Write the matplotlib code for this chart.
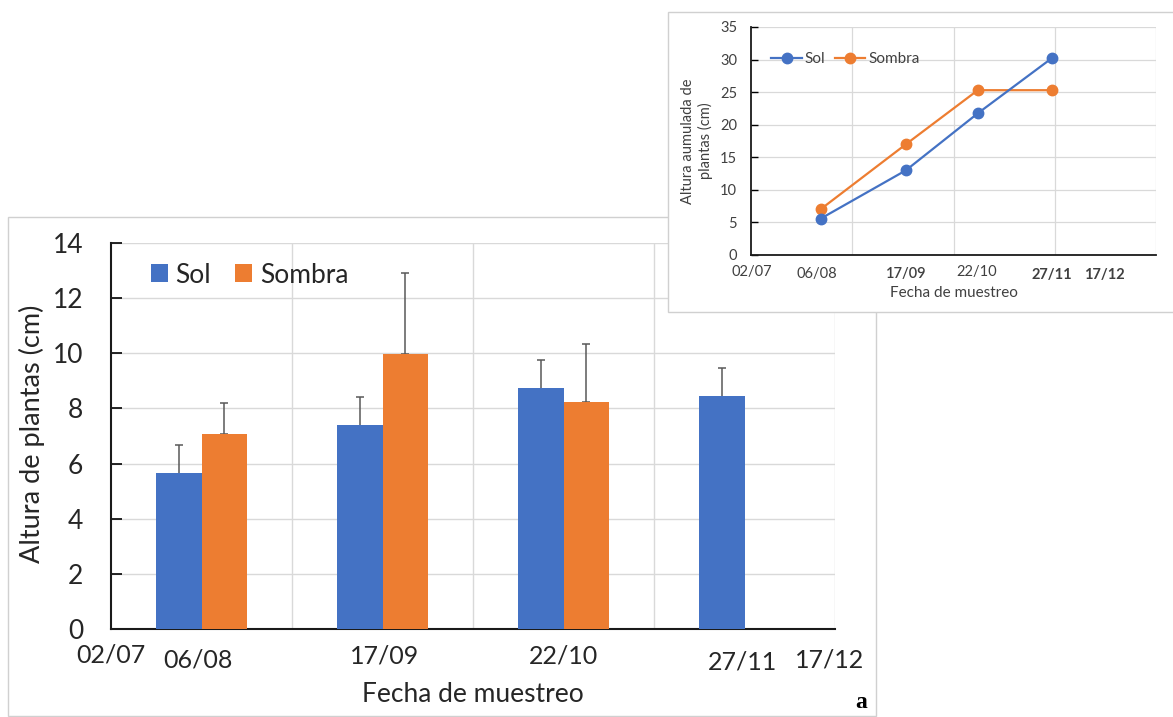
import numpy as np
import matplotlib
matplotlib.use("Agg")
import matplotlib.pyplot as plt
from matplotlib.patches import Rectangle
from matplotlib.transforms import offset_copy

plt.rcParams['font.family'] = ['Lato', 'DejaVu Sans']

# ---------------- data ----------------
dates = ["06/08", "17/09", "22/10", "27/11"]
sol_height = [5.65, 7.39, 8.73, 8.46]
sol_err = [1.02, 1.02, 1.02, 1.02]
sombra_height = [7.09, 9.98, 8.22, np.nan]
sombra_err = [1.12, 2.95, 2.10, np.nan]

# main x-axis labels (date axis labels as drawn)
main_xlabels = ["02/07", "06/08", "17/09", "22/10", "27/11", "17/12"]

# inset: cumulative height
sol_cum = [5.6, 13.0, 21.75, 30.2]
sombra_cum = [7.05, 17.0, 25.3, 25.3]
inset_xlabels = ["02/07", "06/08", "17/09", "22/10", "27/11", "17/12"]

BLUE = "#4472C4"
ORANGE = "#ED7D31"
GRID = "#D9D9D9"
TXT = "#262626"

W, H = 1173, 717
fig = plt.figure(figsize=(W / 100, H / 100), dpi=100)
fig.patch.set_facecolor("white")

def fx(px):
    return px / W

def fy(py):
    return 1 - py / H

# main frame
fig.patches.append(Rectangle((fx(8), fy(716)), fx(876) - fx(8), fy(217) - fy(716),
                             transform=fig.transFigure, facecolor="white",
                             edgecolor="#D0D0D0", lw=1.0, zorder=-5))
# inset frame
fig.patches.append(Rectangle((fx(668), fy(312)), fx(1190) - fx(668), fy(12) - fy(312),
                             transform=fig.transFigure, facecolor="white",
                             edgecolor="#D0D0D0", lw=1.0, zorder=2))

# ---------------- main axes ----------------
ax = fig.add_axes([fx(111), fy(629), fx(835) - fx(111), fy(243) - fy(629)], zorder=0)
ax.set_facecolor("none")
ax.set_xlim(0, 4)
ax.set_ylim(0, 14)

x = np.arange(len(dates)) + 0.5
bw = 0.25
zero = [0] * len(dates)
ax.bar(x - bw / 2, sol_height, bw, color=BLUE, zorder=3, label="Sol")
ax.bar(x + bw / 2, sombra_height, bw, color=ORANGE, zorder=3, label="Sombra")
for xs, hs, es in [(x - bw / 2, sol_height, sol_err), (x + bw / 2, sombra_height, sombra_err)]:
    eb = ax.errorbar(xs, hs, yerr=[zero, es], fmt="none", ecolor="#595959",
                     elinewidth=1.1, capsize=2.8, capthick=1.1, zorder=2)
    hs_arr = np.asarray(hs, dtype=float)
    for cl in eb[1]:
        yd = np.asarray(cl.get_ydata(), dtype=float)
        valid = ~np.isnan(hs_arr)
        if len(yd) == valid.sum() and np.allclose(yd, hs_arr[valid]):
            cl.set_visible(False)

ax.set_yticks(np.arange(0, 15, 2))
ax.tick_params(axis="y", direction="in", length=8, width=1.2, color="black",
               labelsize=19, pad=20, labelcolor=TXT)
ax.set_xticks([1, 2, 3, 4], minor=True)
ax.set_xticks([])
ax.tick_params(axis="x", which="both", length=0)
ax.grid(axis="y", color=GRID, lw=1.0, zorder=0)
ax.grid(axis="x", which="minor", color=GRID, lw=1.0, zorder=0)
for s in ["top", "right"]:
    ax.spines[s].set_visible(False)
for s in ["left", "bottom"]:
    ax.spines[s].set_linewidth(1.5)
    ax.spines[s].set_color("#1a1a1a")

# main x labels (positions/offsets as laid out in the figure)
main_lab_x = [0.0, 0.48, 1.51, 2.5, 3.49, 3.97]
main_lab_dy = [-26, -31, -27, -27, -33, -31]
for lab, xp, dy in zip(main_xlabels, main_lab_x, main_lab_dy):
    tr = offset_copy(ax.get_xaxis_transform(), fig=fig, x=0, y=dy * 0.72, units="points")
    ax.text(xp, 0, lab, transform=tr, ha="center", va="center", fontsize=18, color=TXT)

ax.text(0.5, 0, "Fecha de muestreo",
        transform=offset_copy(ax.transAxes, fig=fig, y=-66 * 0.72, units="points"),
        ha="center", va="center", fontsize=19, color=TXT)
ax.set_ylabel("Altura de plantas (cm)", fontsize=19.5, color=TXT)
ax.yaxis.set_label_coords(-(111 - 45) / 724, 0.505)

leg = ax.legend(loc="center left", bbox_to_anchor=(0.04, 0.917), frameon=False,
                fontsize=19, handlelength=0.65, handleheight=0.65, handletextpad=0.3,
                columnspacing=0.9, ncol=2, borderaxespad=0)
for t in leg.get_texts():
    t.set_color(TXT)

fig.text(fx(861), fy(702), "a", fontsize=17, fontweight="bold",
         family="Liberation Serif", ha="center", va="center", color="black")

# ---------------- inset axes ----------------
ai = fig.add_axes([fx(751), fy(255), fx(1156) - fx(751), fy(27) - fy(255)], zorder=3)
ai.set_facecolor("none")
ai.set_xlim(0, 4)
ai.set_ylim(0, 35)
inset_pos = [0.69, 1.53, 2.24, 2.97]
ai.plot(inset_pos, sol_cum, "-o", color=BLUE, lw=1.6, ms=7.5, label="Sol", zorder=4)
ai.plot(inset_pos, sombra_cum, "-o", color=ORANGE, lw=1.6, ms=7.5, label="Sombra", zorder=3)
ai.set_yticks(np.arange(0, 36, 5))
ai.tick_params(axis="y", direction="in", length=5, width=1.0, labelsize=10.5,
               pad=10, labelcolor="#404040")
ai.set_xticks([1, 2, 3, 4], minor=True)
ai.set_xticks([])
ai.tick_params(axis="x", which="both", length=0)
ai.grid(axis="y", color=GRID, lw=0.9, zorder=0)
ai.grid(axis="x", which="minor", color=GRID, lw=0.9, zorder=0)
for s in ["top", "right"]:
    ai.spines[s].set_visible(False)
for s in ["left", "bottom"]:
    ai.spines[s].set_linewidth(1.3)
    ai.spines[s].set_color("#1a1a1a")

inset_lab_x = [0.01, 0.65, 1.53, 2.23, 2.97, 3.49]
inset_lab_dy = [-17, -19, -19, -17, -20, -20]
inset_lab_w = ["normal", "normal", "semibold", "normal", "bold", "bold"]
for lab, xp, dy, wt in zip(inset_xlabels, inset_lab_x, inset_lab_dy, inset_lab_w):
    tr = offset_copy(ai.get_xaxis_transform(), fig=fig, x=0, y=dy * 0.72, units="points")
    ai.text(xp, 0, lab, transform=tr, ha="center", va="center", fontsize=10.5,
            color="#404040", fontweight=wt)

ai.text(0.5, 0, "Fecha de muestreo",
        transform=offset_copy(ai.transAxes, fig=fig, y=-38 * 0.72, units="points"),
        ha="center", va="center", fontsize=11, color="#404040")
ai.set_ylabel("Altura aumulada de\nplantas (cm)", fontsize=10.5, color="#404040",
              linespacing=1.25)
ai.yaxis.set_label_coords(-(751 - 713) / 405, 0.5)

li = ai.legend(loc="center left", bbox_to_anchor=(0.035, 0.86), frameon=False,
               fontsize=11, ncol=2, handlelength=2.0, handletextpad=0.2,
               columnspacing=0.6, borderaxespad=0, markerscale=1.0)
for t in li.get_texts():
    t.set_color("#404040")

fig.savefig("out.png", dpi=100, facecolor="white")
